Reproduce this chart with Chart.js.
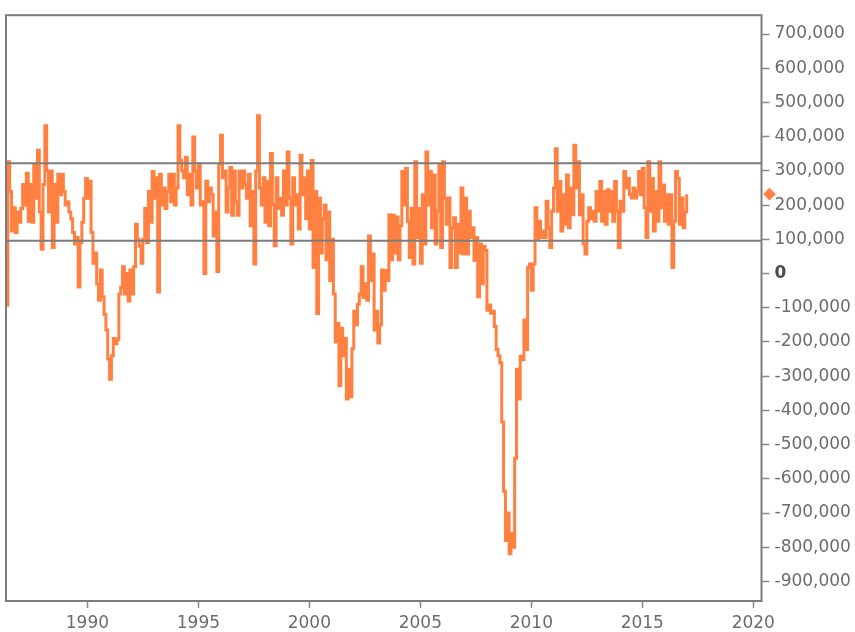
<!DOCTYPE html>
<html><head><meta charset="utf-8">
<script src="https://cdn.jsdelivr.net/npm/chart.js@4.4.1/dist/chart.umd.min.js"></script>
<style>html,body{margin:0;padding:0;background:#fff}#wrap{width:855px;height:632px}</style>
</head><body><div id="wrap"><canvas id="c" width="855" height="632"></canvas></div>
<script>
// Monthly change in employment (thousands), first month = May 1986
const startYear = 1986;
const startMonth = 5;
const jobs1986to1991 = [-92, 327, 240, 124, 192, 120, 180, 150, 190, 260, 200, 293, 153, 260, 150, 317, 220, 360, 180, 71, 260, 432, 300, 180, 300, 76, 260, 150, 290, 230, 290, 240, 200, 210, 180, 160, 120, 86, 105, -39, 90, 150, 220, 278, 220, 270, 120, 30, 60, -30, -78, 10, -68, -120, -165, -250, -309, -240, -190, -205, -193, -60, -40];
const jobs1991to1996 = [20, -60, 0, -80, 10, -60, 20, 144, 100, 80, 30, 100, 190, 90, 240, 150, 298, 220, 280, -54, 290, 200, 250, 190, 240, 290, 210, 290, 200, 250, 432, 330, 300, 280, 340, 230, 290, 200, 399, 300, 250, 320, 200, 210, 0, 270, 210, 250, 230, 110, 180, 6, 320, 404, 280, 300, 180, 250, 310, 170, 300, 210];
const jobs1996to2001 = [170, 300, 250, 300, 260, 220, 290, 140, 240, 28, 300, 461, 250, 200, 280, 150, 270, 140, 351, 200, 81, 280, 190, 220, 170, 300, 200, 355, 220, 86, 280, 200, 230, 130, 346, 230, 280, 160, 300, 130, 330, 18, 240, -117, 220, 60, 160, 200, 40, 180, -20, 100, -60, -200, -145, -328, -160, -240, -190, -367, -280, -360];
const jobs2001to2007 = [-220, -110, -150, -90, -60, 20, -70, -30, -78, 110, -20, 57, -165, -110, -203, -150, 10, -49, 9, -20, 172, 40, 170, 60, 165, 40, 140, 298, 200, 307, 153, 47, 190, 28, 327, 105, 190, 30, 230, 86, 355, 200, 298, 134, 288, 86, 182, 317, 76, 327, 221, 144, 221, 18, 134, 163, 18, 144, 60, 250, 57, 220];
const jobs2007to2012 = [57, 182, 105, 134, 38, 105, -68, 86, -30, 80, 67, -107, -92, -116, -110, -155, -222, -240, -261, -434, -636, -780, -700, -819, -760, -800, -540, -280, -367, -242, -251, -136, -222, 18, 28, -49, 28, 192, 100, 153, 105, 124, 105, 211, 134, 76, 182, 250, 365, 182, 269, 124, 230, 144, 288, 134, 250, 172, 375, 250];
const jobs2012to2017 = [327, 172, 230, 86, 57, 153, 192, 160, 182, 153, 240, 182, 269, 153, 240, 144, 245, 182, 240, 153, 269, 182, 76, 211, 182, 298, 250, 278, 230, 221, 250, 221, 240, 298, 230, 307, 192, 105, 327, 182, 278, 124, 240, 153, 327, 192, 259, 153, 230, 144, 230, 18, 153, 298, 278, 144, 221, 134, 180, 232];

const xTickYears = [1990, 1995, 2000, 2005, 2010, 2015, 2020];
const yTickValues = [-900000, -800000, -700000, -600000, -500000, -400000, -300000, -200000, -100000, 0, 100000, 200000, 300000, 400000, 500000, 600000, 700000];
const refLevels = [322000, 96000];
const xRange = [1986.333, 2020.37];
const yRange = [-957000, 755000];

const allJobs = [].concat(jobs1986to1991, jobs1991to1996, jobs1996to2001, jobs2001to2007, jobs2007to2012, jobs2012to2017);
const points = allJobs.map((v, i) => ({x: startYear + (startMonth - 1 + i) / 12, y: v * 1000}));
const lastValue = points[points.length - 1].y;

const ORANGE = '#FF8040';
const GRAY = '#7c7c7c';
const LABEL = '#6c6c6c';
const FONT = 'DejaVu Sans';

const refDatasets = refLevels.map(lv => ({
  data: [{x: xRange[0], y: lv}, {x: xRange[1], y: lv}],
  borderColor: GRAY, borderWidth: 2, pointRadius: 0, fill: false
}));

const framePlugin = {
  id: 'frame',
  afterDraw(chart) {
    const {ctx, chartArea: a, scales} = chart;
    ctx.save();
    ctx.strokeStyle = GRAY;
    ctx.lineWidth = 2;
    ctx.strokeRect(a.left, a.top, a.right - a.left, a.bottom - a.top);
    // last value marker on the right axis
    const y = scales.y.getPixelForValue(lastValue);
    const x = a.right + 8;
    const r = 6.3;
    ctx.fillStyle = ORANGE;
    ctx.beginPath();
    ctx.moveTo(x, y - r); ctx.lineTo(x + r, y); ctx.lineTo(x, y + r); ctx.lineTo(x - r, y);
    ctx.closePath(); ctx.fill();
    ctx.restore();
  }
};

new Chart(document.getElementById('c'), {
  type: 'line',
  data: {
    datasets: [...refDatasets, {
      data: points,
      borderColor: ORANGE, borderWidth: 3, pointRadius: 0, stepped: true, fill: false
    }]
  },
  options: {
    responsive: false, animation: false, events: [],
    layout: {padding: {left: 6, top: 5, right: 0, bottom: 0}},
    plugins: {legend: {display: false}, tooltip: {enabled: false}},
    scales: {
      x: {
        type: 'linear', min: xRange[0], max: xRange[1],
        afterBuildTicks: s => { s.ticks = xTickYears.map(v => ({value: v})); },
        afterFit: s => { s.height = 31; },
        grid: {display: true, drawOnChartArea: false, drawTicks: true, tickLength: 7, tickColor: '#8a8a8a', tickWidth: 1.5},
        border: {display: false},
        ticks: {callback: v => String(v), color: LABEL, font: {family: FONT, size: 17}, padding: 5, maxRotation: 0, autoSkip: false}
      },
      y: {
        type: 'linear', position: 'right', min: yRange[0], max: yRange[1],
        afterBuildTicks: s => { s.ticks = yTickValues.map(v => ({value: v})); },
        afterFit: s => { s.width = 93.5; },
        grid: {display: true, drawOnChartArea: false, drawTicks: true, tickLength: 8, tickColor: '#8a8a8a', tickWidth: 1.5},
        border: {display: false},
        ticks: {
          callback: v => v.toLocaleString('en-US'),
          color: c => (c.tick && c.tick.value === 0) ? '#4a4a4a' : LABEL,
          font: c => ({family: FONT, size: 17, weight: (c.tick && c.tick.value === 0) ? 'bold' : 'normal'}),
          padding: 5, autoSkip: false
        }
      }
    }
  },
  plugins: [framePlugin]
});
</script></body></html>
